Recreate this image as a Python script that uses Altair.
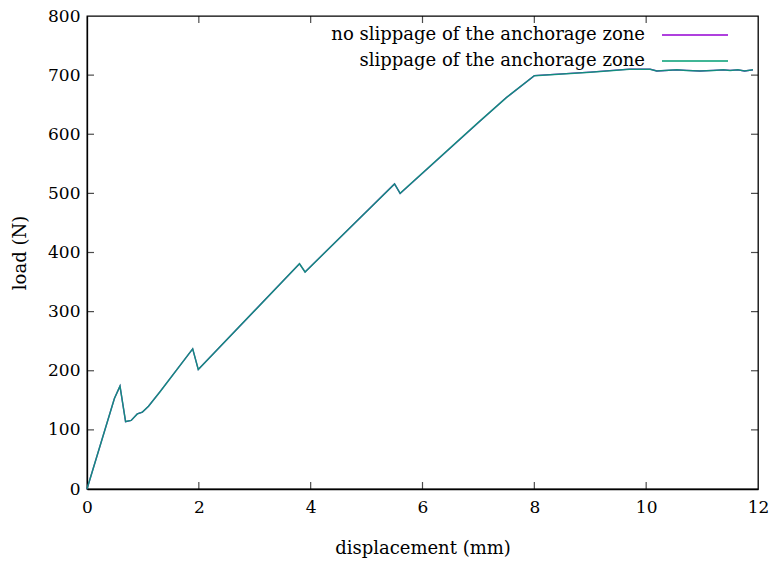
import altair as alt
import pandas as pd

# Load-displacement curves of the anchorage test
displacement = [0.0, 0.49, 0.59, 0.69, 0.79, 0.90, 0.99, 1.10, 1.31, 1.89, 1.99,
                3.80, 3.90, 5.50, 5.60, 7.00, 7.50, 8.00, 9.00, 9.70, 10.07,
                10.19, 10.55, 10.72, 10.96, 11.20, 11.38, 11.50, 11.64, 11.76, 11.91]
load_no_slip = [0, 153, 174, 114, 116, 127, 130, 140, 165, 237, 202,
                381, 367, 516, 500, 620, 662, 699, 705, 710, 710,
                707, 709, 708, 707, 708, 709, 708, 709, 707, 709]
load_slip = [0, 153, 174, 114, 116, 127, 130, 140, 165, 237, 202,
             381, 367, 516, 500, 620, 662, 699, 705, 710, 710,
             707, 709, 708, 707, 708, 709, 708, 709, 707, 709]

series_names = ["no slippage of the anchorage zone", "slippage of the anchorage zone"]
series_colors = ["#9400d3", "#009e73"]

x_ticks = [0, 2, 4, 6, 8, 10, 12]
y_ticks = [0, 100, 200, 300, 400, 500, 600, 700, 800]

W, H = 671, 473
FONT = "DejaVu Serif"
FS_LABEL = 17
FS_TEXT = 18

df = pd.DataFrame({
    "displacement": displacement * 2,
    "load": load_no_slip + load_slip,
    "series": [series_names[0]] * len(displacement) + [series_names[1]] * len(displacement),
})

x_scale = alt.Scale(domain=[0, 12], nice=False, zero=False)
y_scale = alt.Scale(domain=[0, 800], nice=False)

x_axis = alt.Axis(values=x_ticks, format="d", title="displacement (mm)", tickSize=0,
                  labelPadding=10, labelFlush=False, titlePadding=24, grid=False,
                  domainColor="black", domainWidth=1.3)
y_axis = alt.Axis(values=y_ticks, format="d", title="load (N)", tickSize=0,
                  labelPadding=7, labelFlush=False, titlePadding=18, grid=False,
                  domainColor="black", domainWidth=1.3)

base = alt.Chart(df)

line_no_slip = base.transform_filter(alt.datum.series == series_names[0]).mark_line(
    color=series_colors[0], strokeWidth=1.3
).encode(
    x=alt.X("displacement:Q", scale=x_scale, axis=x_axis),
    y=alt.Y("load:Q", scale=y_scale, axis=y_axis),
)
line_slip = base.transform_filter(alt.datum.series == series_names[1]).mark_line(
    color=series_colors[1], strokeWidth=1.5, opacity=0.88
).encode(
    x=alt.X("displacement:Q", scale=x_scale),
    y=alt.Y("load:Q", scale=y_scale),
)

# Inward ticks on all four sides
xt = pd.DataFrame({"t": x_ticks[1:-1]})
yt = pd.DataFrame({"t": y_ticks[1:-1]})
TL = 7
x_ticks_bottom = alt.Chart(xt).mark_tick(color="black", size=TL, thickness=1.2, yOffset=-TL / 2).encode(
    x=alt.X("t:Q", scale=x_scale), y=alt.value(H))
x_ticks_top = alt.Chart(xt).mark_tick(color="black", size=TL, thickness=1.2, yOffset=TL / 2).encode(
    x=alt.X("t:Q", scale=x_scale), y=alt.value(0))
y_ticks_left = alt.Chart(yt).mark_tick(color="black", size=TL, thickness=1.2, xOffset=TL / 2).encode(
    y=alt.Y("t:Q", scale=y_scale), x=alt.value(0))
y_ticks_right = alt.Chart(yt).mark_tick(color="black", size=TL, thickness=1.2, xOffset=-TL / 2).encode(
    y=alt.Y("t:Q", scale=y_scale), x=alt.value(W))

# Key in the upper right corner: label followed by a line sample
key = pd.DataFrame({"series": series_names, "color": series_colors})
key_rows = []
for i, ypix in enumerate([19, 45]):
    row = alt.Chart(key).transform_filter(alt.datum.series == series_names[i])
    key_rows.append(row.mark_text(align="right", baseline="middle", font=FONT, fontSize=FS_TEXT,
                                  color="black").encode(
        text="series:N", x=alt.value(558), y=alt.value(ypix)))
    key_rows.append(row.mark_rule(strokeWidth=1.4).encode(
        x=alt.value(575), x2=alt.value(641), y=alt.value(ypix),
        color=alt.Color("color:N", scale=None)))

chart = alt.layer(
    line_no_slip, line_slip,
    x_ticks_bottom, x_ticks_top, y_ticks_left, y_ticks_right,
    *key_rows,
).properties(
    width=W, height=H,
    autosize=alt.AutoSizeParams(type="none"),
    padding={"left": 87, "top": 16, "right": 18, "bottom": 72},
).configure_view(
    stroke="black", strokeWidth=1.3
).configure_axis(
    labelFont=FONT, titleFont=FONT, labelFontSize=FS_LABEL, titleFontSize=FS_TEXT,
    labelColor="black", titleColor="black", titleFontWeight="normal",
)

chart.save("out.html", embed_options={"renderer": "svg", "actions": False})
